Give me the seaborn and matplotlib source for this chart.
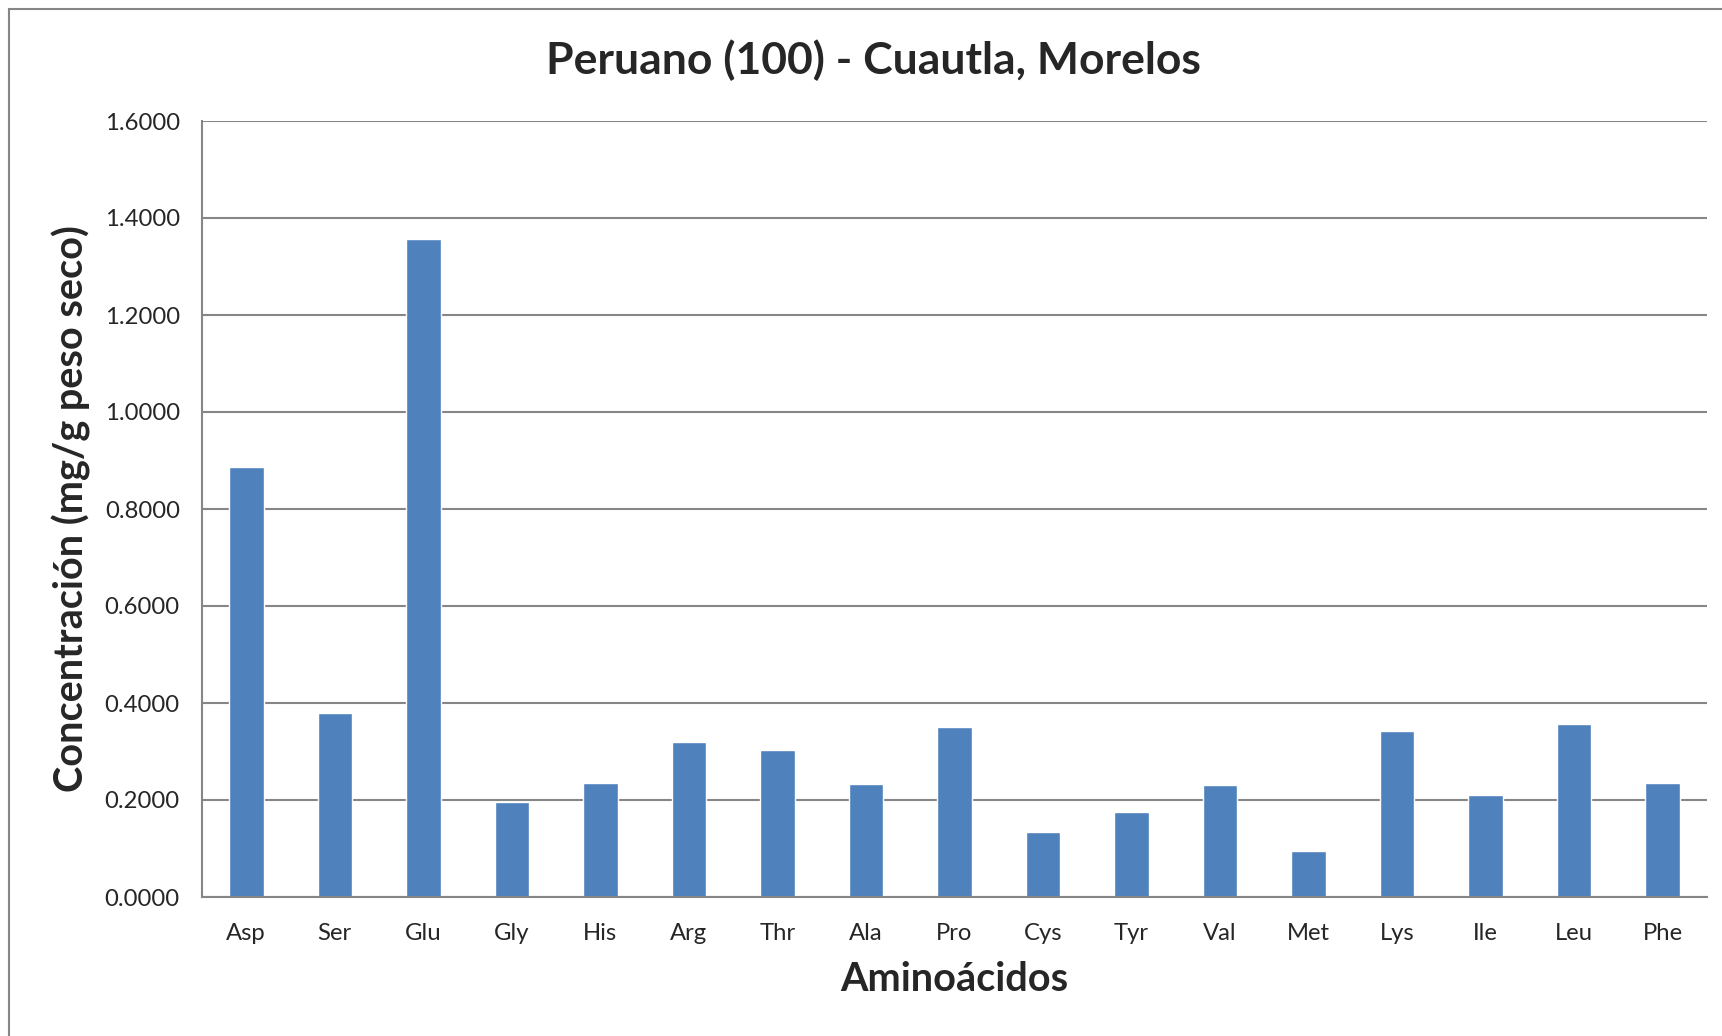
import pandas as pd
import matplotlib
matplotlib.use('Agg')
import matplotlib.pyplot as plt
import seaborn as sns
from matplotlib.patches import Rectangle
from matplotlib.ticker import FixedLocator, FormatStrFormatter

# datos
aminoacidos = ['Asp', 'Ser', 'Glu', 'Gly', 'His', 'Arg', 'Thr', 'Ala', 'Pro',
               'Cys', 'Tyr', 'Val', 'Met', 'Lys', 'Ile', 'Leu', 'Phe']
concentracion = [0.8865, 0.379, 1.357, 0.195, 0.236, 0.319, 0.303, 0.2325, 0.3495,
                 0.133, 0.176, 0.230, 0.0957, 0.343, 0.210, 0.356, 0.236]
yticks = [0.0, 0.2, 0.4, 0.6, 0.8, 1.0, 1.2, 1.4, 1.6]

titulo = 'Peruano (100) - Cuautla, Morelos'
xlabel = 'Aminoácidos'
ylabel = 'Concentración (mg/g peso seco)'

df = pd.DataFrame({'aa': aminoacidos, 'conc': concentracion})

sns.set_style('white')
plt.rcParams['font.family'] = ['Lato', 'DejaVu Sans']

gris = '#868686'
fig = plt.figure(figsize=(17.22, 10.36), dpi=100)
ax = fig.add_axes([202 / 1722, 1 - 897 / 1036, (1707 - 202) / 1722, (897 - 121) / 1036])

sns.barplot(data=df, x='aa', y='conc', color='#4F81BD', saturation=1, width=0.39, ax=ax)

ax.set_ylim(0, 1.6)
ax.set_xlim(-0.5, len(aminoacidos) - 0.5)
ax.set_yticks(yticks)
ax.yaxis.set_major_formatter(FormatStrFormatter('%.4f'))
ax.set_axisbelow(True)
ax.grid(axis='y', color=gris, linewidth=1.5)
ax.grid(axis='x', visible=False)

# marcas del eje x en los limites de cada categoria
ax.xaxis.set_minor_locator(FixedLocator([i - 0.5 for i in range(len(aminoacidos) + 1)]))
ax.tick_params(axis='x', which='major', length=0, labelsize=17.2, pad=19)
ax.tick_params(axis='x', which='minor', length=9, width=1.5, color=gris, direction='out')
ax.tick_params(axis='y', length=9, width=1.5, color=gris, direction='out', labelsize=17.2, pad=7)

for s in ['top', 'right']:
    ax.spines[s].set_visible(False)
for s in ['left', 'bottom']:
    ax.spines[s].set_color(gris)
    ax.spines[s].set_linewidth(1.5)

ax.set_xlabel(xlabel, fontsize=28.5, fontweight='bold', labelpad=12)
ax.set_ylabel(ylabel, fontsize=28.5, fontweight='bold', labelpad=10)

fig.text(873 / 1722, 1 - 60 / 1036, titulo, ha='center', va='center', fontsize=32, fontweight='bold')

# marco del area del grafico
fig.patches.append(Rectangle((9 / 1722, -0.05), 1.1, 1 - 9 / 1036 + 0.05, transform=fig.transFigure,
                             fill=False, edgecolor=gris, linewidth=1.5))

fig.savefig('out.png', dpi=100)
